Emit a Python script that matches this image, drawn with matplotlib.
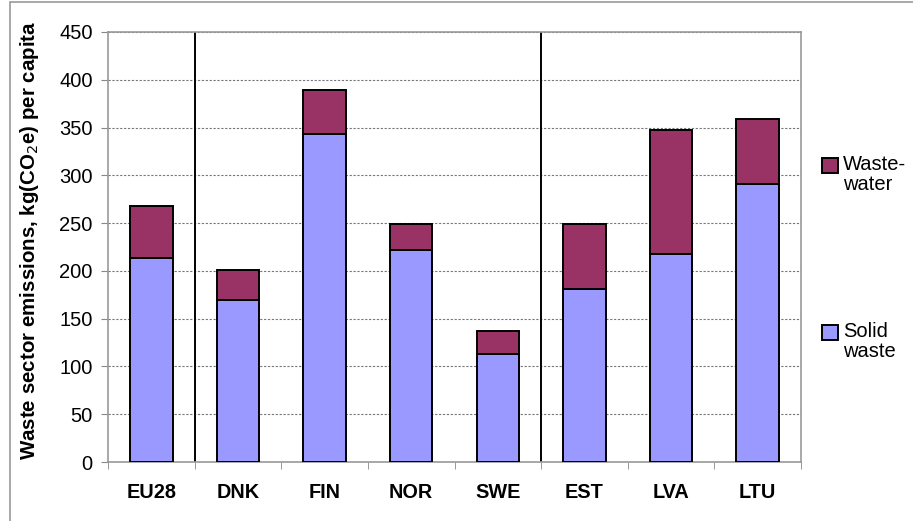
import matplotlib.pyplot as plt
import numpy as np
from matplotlib.patches import Rectangle

countries = ['EU28', 'DNK', 'FIN', 'NOR', 'SWE', 'EST', 'LVA', 'LTU']
solid_waste = [214, 170, 343, 222, 113, 181, 218, 291]
total = [268, 201, 389, 249, 137, 249, 347, 359]
waste_water = [t - s for t, s in zip(total, solid_waste)]
separators = [0.5, 4.5]

SOLID = '#9999ff'
WATER = '#993366'

plt.rcParams['font.family'] = ['Liberation Sans', 'DejaVu Sans']

W, H = 913, 521
fig = plt.figure(figsize=(W / 100, H / 100), dpi=100)
ax = fig.add_axes([108 / W, 1 - 462 / H, (801 - 108) / W, (462 - 32) / H])

x = np.arange(len(countries))
ax.bar(x, solid_waste, width=0.49, color=SOLID, edgecolor='black',
       linewidth=1.4, zorder=3)
ax.bar(x, waste_water, bottom=solid_waste, width=0.49, color=WATER,
       edgecolor='black', linewidth=1.4, zorder=3)

for s in separators:
    ax.axvline(s, color='black', linewidth=1.4, zorder=2)

ax.set_xlim(-0.5, len(countries) - 0.5)
ax.set_ylim(0, 450)
ax.set_yticks(range(0, 451, 50))
ax.yaxis.grid(True, linestyle=(0, (2, 1.5)), color='#777777', linewidth=0.8, zorder=1)
ax.set_xticks(x)
ax.set_xticklabels(countries, fontsize=14.3, fontweight='bold')
ax.set_xticks(np.arange(-0.5, len(countries), 1), minor=True)
ax.tick_params(axis='x', which='major', length=0, pad=15)
ax.tick_params(axis='x', which='minor', length=5, color='#888888', direction='out')
ax.tick_params(axis='y', labelsize=14.5, length=5, color='#888888', pad=6)
for sp in ax.spines.values():
    sp.set_color('#999999')
    sp.set_linewidth(1.2)

fig.text(30 / W, 1 - 240 / H, 'Waste sector emissions, kg(CO$_2$e) per capita',
         fontsize=14.8, fontweight='bold', rotation=90, ha='center', va='center')

# legend drawn by hand so the swatch sits on the first text line
legend_items = [('Waste-\nwater', WATER, 158), ('Solid\nwaste', SOLID, 325)]
for label, colour, top in legend_items:
    fig.patches.append(Rectangle((822 / W, 1 - (top + 15) / H), 16 / W, 15 / H,
                                 transform=fig.transFigure, facecolor=colour,
                                 edgecolor='black', linewidth=1.4))
    fig.text(843 / W, 1 - (top - 3) / H, label, fontsize=14.5, va='top',
             ha='left', linespacing=1.05)

fig.patches.append(Rectangle((10 / W, -0.05), 1.2, 1 - 2 / H + 0.05,
                             transform=fig.transFigure, fill=False,
                             edgecolor='#999999', linewidth=1.2))

fig.savefig('out.png', dpi=100)
